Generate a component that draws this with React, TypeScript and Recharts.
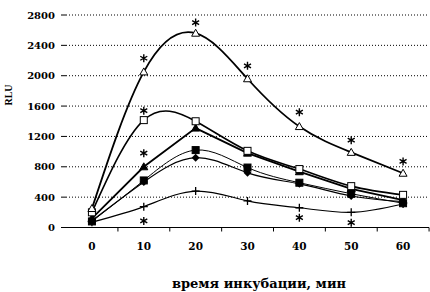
import React from "react";
import { ComposedChart, Line, XAxis, YAxis, CartesianGrid } from "recharts";

// incubation time, min
const minutes = [0, 10, 20, 30, 40, 50, 60];

// RLU per series
const openTriangles = [250, 2050, 2560, 1960, 1330, 990, 715];
const openSquares = [200, 1415, 1400, 1010, 770, 545, 430];
const filledTriangles = [120, 800, 1310, 980, 735, 510, 360];
const filledSquares = [80, 620, 1020, 790, 590, 445, 320];
const filledDiamonds = [90, 600, 920, 720, 575, 415, 340];
const crosses = [70, 275, 480, 350, 260, 200, 310];

// significance marks (*)
const starsTop = [null, 2230, 2700, 2130, 1520, 1150, 870];
const starsMid = [null, 1540, null, null, null, null, null];
const starsLow = [null, 980, null, null, null, null, null];
const starsBottom = [null, 86, null, null, 129, 63, null];

const yTicks = [0, 400, 800, 1200, 1600, 2000, 2400, 2800];

const data = minutes.map((t, i) => ({
  t,
  openTriangles: openTriangles[i],
  openSquares: openSquares[i],
  filledTriangles: filledTriangles[i],
  filledSquares: filledSquares[i],
  filledDiamonds: filledDiamonds[i],
  crosses: crosses[i],
  starsTop: starsTop[i],
  starsMid: starsMid[i],
  starsLow: starsLow[i],
  starsBottom: starsBottom[i],
}));

const numFont = "'DejaVu Serif', serif";

type Shape = "openTri" | "openSq" | "tri" | "sq" | "diamond" | "cross" | "star";

const marker = (shape: Shape, name: string) => (props: any) => {
  const { cx, cy, index, value } = props;
  const key = `${name}-${index}`;
  if (value == null || cx == null || cy == null) return <g key={key} />;
  switch (shape) {
    case "openTri":
    case "tri":
      return (
        <path
          key={key}
          d={`M${cx},${cy - 4}L${cx + 4},${cy + 3}L${cx - 4},${cy + 3}Z`}
          fill={shape === "tri" ? "#000" : "#fff"}
          stroke="#000"
          strokeWidth={1}
        />
      );
    case "openSq":
    case "sq":
      return (
        <rect
          key={key}
          x={cx - 3.5}
          y={cy - 3.5}
          width={7}
          height={7}
          fill={shape === "sq" ? "#000" : "#fff"}
          stroke="#000"
          strokeWidth={1}
        />
      );
    case "diamond":
      return (
        <path
          key={key}
          d={`M${cx},${cy - 4}L${cx + 4},${cy}L${cx},${cy + 4}L${cx - 4},${cy}Z`}
          fill="#000"
        />
      );
    case "cross":
      return (
        <path
          key={key}
          d={`M${cx - 4},${cy}H${cx + 4}M${cx},${cy - 4}V${cx !== null ? cy + 4 : 0}`}
          stroke="#000"
          strokeWidth={1.3}
        />
      );
    default:
      return (
        <path
          key={key}
          d={`M${cx},${cy - 4}V${cy + 4}M${cx - 3.5},${cy - 2}L${cx + 3.5},${cy + 2}M${cx - 3.5},${cy + 2}L${cx + 3.5},${cy - 2}`}
          stroke="#000"
          strokeWidth={1.4}
        />
      );
  }
};

const MinuteTick = (props: any) => {
  const { x, y, payload } = props;
  return (
    <g>
      <line x1={x + 26} x2={x + 26} y1={y} y2={y + 4} stroke="#000" />
      <text
        x={x}
        y={y + 22}
        textAnchor="middle"
        fontFamily={numFont}
        fontWeight="bold"
        fontSize={10.5}
        fill="#000"
      >
        {payload.value}
      </text>
    </g>
  );
};

const TimeTitle = () => (
  <text
    x={259}
    y={288}
    textAnchor="middle"
    fontFamily={numFont}
    fontWeight="bold"
    fontSize={13}
    fill="#000"
  >
    время инкубации, мин
  </text>
);

const RluTitle = () => (
  <text
    x={8}
    y={95}
    transform="rotate(-90 8 95)"
    textAnchor="middle"
    dominantBaseline="central"
    fontFamily="'Liberation Serif', serif"
    fontWeight="bold"
    fontSize={10}
    fill="#000"
  >
    RLU
  </text>
);

const series: { key: string; shape: Shape; width: number; curve: "natural" | "linear" }[] = [
  { key: "crosses", shape: "cross", width: 1.2, curve: "natural" },
  { key: "filledDiamonds", shape: "diamond", width: 1.2, curve: "natural" },
  { key: "filledSquares", shape: "sq", width: 1, curve: "natural" },
  { key: "filledTriangles", shape: "tri", width: 1.8, curve: "linear" },
  { key: "openSquares", shape: "openSq", width: 1.6, curve: "natural" },
  { key: "openTriangles", shape: "openTri", width: 1.8, curve: "natural" },
];

const stars = ["starsTop", "starsMid", "starsLow", "starsBottom"];

export default function App() {
  return (
    <div style={{ position: "absolute", left: 0, top: 0, background: "#fff" }}>
      <ComposedChart
        width={430}
        height={292}
        data={data}
        margin={{ top: 15, right: 1, bottom: 0, left: 0 }}
      >
        <CartesianGrid
          vertical={false}
          stroke="#000"
          strokeDasharray="1 2"
        />
        <XAxis
          dataKey="t"
          type="number"
          domain={[-5, 65]}
          ticks={minutes}
          height={64.5}
          tickSize={0}
          tickMargin={0}
          axisLine={{ stroke: "#000", strokeWidth: 1 }}
          tick={<MinuteTick />}
          label={<TimeTitle />}
        />
        <YAxis
          type="number"
          domain={[0, 2800]}
          ticks={yTicks}
          width={66}
          axisLine={false}
          tickLine={{ stroke: "#000" }}
          tickSize={5}
          tickMargin={6}
          tick={{ fontFamily: numFont, fontWeight: "bold", fontSize: 10, fill: "#000" }}
          label={<RluTitle />}
        />
        {series.map((s) => (
          <Line
            key={s.key}
            dataKey={s.key}
            type={s.curve}
            stroke="#000"
            strokeWidth={s.width}
            dot={marker(s.shape, s.key)}
            activeDot={false}
            isAnimationActive={false}
          />
        ))}
        {stars.map((k) => (
          <Line
            key={k}
            dataKey={k}
            stroke="none"
            dot={marker("star", k)}
            activeDot={false}
            isAnimationActive={false}
          />
        ))}
      </ComposedChart>
    </div>
  );
}
